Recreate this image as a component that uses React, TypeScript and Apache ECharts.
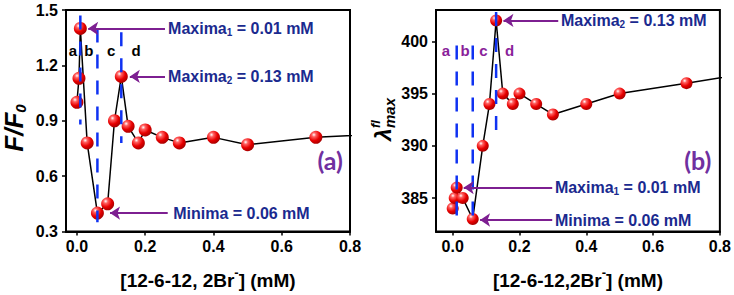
import React, { useEffect, useRef } from "react";
import * as echarts from "echarts";

// ---- data ----
const leftX = [0, 0.006, 0.01, 0.03, 0.06, 0.09, 0.11, 0.13, 0.15, 0.18, 0.2, 0.25, 0.3, 0.4, 0.5, 0.7, 1.0];
const leftY = [1.0, 1.13, 1.4, 0.78, 0.4, 0.45, 0.9, 1.14, 0.87, 0.78, 0.85, 0.81, 0.78, 0.81, 0.77, 0.81, 0.84];

const rightX = [0, 0.006, 0.012, 0.03, 0.06, 0.09, 0.11, 0.13, 0.15, 0.18, 0.2, 0.25, 0.3, 0.4, 0.5, 0.7, 1.0];
const rightY = [384, 385, 386, 385, 383, 390, 394, 402, 395, 394, 395, 394, 393, 394, 395, 396, 397.5];

const xTicks = [0, 0.2, 0.4, 0.6, 0.8];
const rightYTicks = [385, 390, 395, 400];

// dashed separators
const leftDashX = [0.01, 0.06, 0.13];
const leftDashTop = [1.47, 1.4, 1.38];
const leftDashBottom = [0.88, 0.35, 0.78];
const rightDashX = [0.012, 0.06, 0.13];
const rightDashTop = [399.6, 399.6, 402.8];
const rightDashBottom = [382.3, 382.3, 391];

// region letters
const letters = ["a", "b", "c", "d"];
const leftLetterX = [-0.012, 0.035, 0.1, 0.173];
const leftLetterY = 1.28;
const rightLetterX = [-0.02, 0.037, 0.092, 0.17];
const rightLetterY = 399.1;

// annotations
const leftNotes = ["{t|Maxima}{s|1}{t| = 0.01 mM}", "{t|Maxima}{s|2}{t| = 0.13 mM}", "{t|Minima = 0.06 mM}"];
const leftNoteX = [0.267, 0.267, 0.282];
const leftArrowFrom = [0.258, 0.258, 0.266];
const leftArrowTo = [0.033, 0.155, 0.097];
const leftNoteY = [1.4, 1.14, 0.4];

const rightNotes = ["{t|Maxima}{s|2}{t| = 0.13 mM}", "{t|Maxima}{s|1}{t| = 0.01 mM}", "{t|Minima = 0.06 mM}"];
const rightNoteX = [0.324, 0.306, 0.306];
const rightArrowFrom = [0.316, 0.298, 0.298];
const rightArrowTo = [0.152, 0.033, 0.082];
const rightNoteY = [402, 386, 382.9];

const panelTags = ["(a)", "(b)"];
const panelTagX = [0.742, 0.734];
const panelTagY = [0.69, 388.65];

const NAVY = "#1a2a8f";
const ARROW = "#7d1f91";
const PURPLE = "#7030a0";
const LETTER_PURPLE = "#8a1f9a";
const BLUE = "#0f32f2";
const FONT = "Liberation Sans";

const ball = {
  type: "radial",
  x: 0.35,
  y: 0.3,
  r: 0.75,
  colorStops: [
    { offset: 0, color: "#ffffff" },
    { offset: 0.22, color: "#ff6060" },
    { offset: 0.6, color: "#e80000" },
    { offset: 1, color: "#a00000" },
  ],
};

const noteRich = {
  t: { fontFamily: FONT, fontWeight: "bold", fontSize: 16, color: NAVY, lineHeight: 18, verticalAlign: "middle" },
  s: { fontFamily: FONT, fontWeight: "bold", fontSize: 10, color: NAVY, lineHeight: 8, verticalAlign: "bottom" },
};

function makeAxes(gridIndex: number, xmin: number, ymin: number, ymax: number, yTicks: number[] | null, name: string) {
  const xAxis: any = {
    type: "value",
    gridIndex,
    min: xmin,
    max: 0.8,
    splitLine: { show: false },
    axisLine: { show: true, onZero: false, lineStyle: { color: "#000", width: 2 } },
    axisTick: { show: true, length: 4, lineStyle: { color: "#000", width: 1.5 }, customValues: xTicks },
    axisLabel: {
      customValues: xTicks,
      formatter: (v: number) => v.toFixed(1),
      fontFamily: FONT,
      fontWeight: "bold",
      fontSize: 16,
      color: "#000",
      margin: 7,
    },
    name,
    nameLocation: "middle",
    nameGap: 34,
    nameTextStyle: {
      fontFamily: FONT,
      fontWeight: "bold",
      fontSize: 19,
      color: "#000",
      rich: {
        m: { fontFamily: FONT, fontWeight: "bold", fontSize: 19, color: "#000", lineHeight: 22, verticalAlign: "middle" },
        p: { fontFamily: FONT, fontWeight: "bold", fontSize: 13, color: "#000", lineHeight: 30, verticalAlign: "top" },
      },
    },
  };
  const yAxis: any = {
    type: "value",
    gridIndex,
    min: ymin,
    max: ymax,
    splitLine: { show: false },
    axisLine: { show: true, onZero: false, lineStyle: { color: "#000", width: 2 } },
    axisTick: { show: true, length: 4, lineStyle: { color: "#000", width: 1.5 } },
    axisLabel: {
      fontFamily: FONT,
      fontWeight: "bold",
      fontSize: 16,
      color: "#000",
      margin: 8,
    },
  };
  if (yTicks) {
    yAxis.axisTick.customValues = yTicks;
    yAxis.axisLabel.customValues = yTicks;
  } else {
    yAxis.interval = 0.3;
    yAxis.axisLabel.formatter = (v: number) => v.toFixed(1);
  }
  return { xAxis, yAxis };
}

function textScatter(idx: number, data: any[], label: any) {
  return {
    type: "scatter",
    xAxisIndex: idx,
    yAxisIndex: idx,
    symbolSize: 0,
    itemStyle: { opacity: 1 },
    emphasis: { disabled: true },
    silent: true,
    data,
    label: { show: true, opacity: 1, formatter: (p: any) => p.name, ...label },
    z: 4,
  };
}

function buildSeries(
  idx: number,
  xs: number[],
  ys: number[],
  dashX: number[],
  dashTop: number[],
  dashBottom: number[],
  letterX: number[],
  letterY: number,
  letterColor: string,
  notes: string[],
  noteX: number[],
  noteY: number[],
  arrowFrom: number[],
  arrowTo: number[],
  symbolSize: number
) {
  const s: any[] = [];
  s.push({
    type: "line",
    xAxisIndex: idx,
    yAxisIndex: idx,
    data: xs.map((x, i) => [x, ys[i]]),
    symbol: "circle",
    symbolSize,
    showAllSymbol: true,
    clip: true,
    lineStyle: { color: "#000", width: 1.5 },
    itemStyle: { color: ball as any, borderWidth: 0, opacity: 1 },
    z: 2,
  });
  dashX.forEach((x, i) => {
    s.push({
      type: "line",
      xAxisIndex: idx,
      yAxisIndex: idx,
      data: [
        [x, dashTop[i]],
        [x, dashBottom[i]],
      ],
      symbol: "none",
      lineStyle: { color: BLUE, width: 2.5, type: [14, 12] },
      z: 3,
    });
  });
  s.push(
    textScatter(
      idx,
      letterX.map((x, i) => ({ value: [x, letterY], name: letters[i] })),
      { position: "inside", fontFamily: FONT, fontWeight: "bold", fontSize: 15, color: letterColor }
    )
  );
  s.push({
    type: "lines",
    coordinateSystem: "cartesian2d",
    xAxisIndex: idx,
    yAxisIndex: idx,
    symbol: ["none", "arrow"],
    symbolSize: [0, 10],
    lineStyle: { color: ARROW, width: 2, opacity: 1, curveness: 0 },
    data: arrowFrom.map((f, i) => ({
      coords: [
        [f, noteY[i]],
        [arrowTo[i], noteY[i]],
      ],
    })),
    z: 4,
  });
  s.push(
    textScatter(
      idx,
      noteX.map((x, i) => ({ value: [x, noteY[i]], name: notes[i] })),
      { position: "right", distance: 0, rich: noteRich }
    )
  );
  s.push(
    textScatter(
      idx,
      [{ value: [panelTagX[idx], panelTagY[idx]], name: panelTags[idx] }],
      { position: "inside", fontFamily: "Lato", fontWeight: "bold", fontSize: 25, color: PURPLE }
    )
  );
  return s;
}

export default function App() {
  const ref = useRef<HTMLDivElement>(null);
  useEffect(() => {
    document.body.style.margin = "0";
    if (!ref.current) return;
    const chart = echarts.init(ref.current, null, { renderer: "svg" });
    const a1 = makeAxes(0, -0.032, 0.3, 1.5, null, "{m|[12-6-12, 2Br}{p|-}{m|] (mM)}");
    const a2 = makeAxes(1, -0.05, 381.8, 403, rightYTicks, "{m|[12-6-12,2Br}{p|-}{m|] (mM)}");
    const option: any = {
      animation: false,
      backgroundColor: "#fff",
      grid: [
        { left: 66, top: 10, width: 284, height: 229, show: true, borderColor: "#000", borderWidth: 2, backgroundColor: "transparent" },
        { left: 436, top: 10, width: 284, height: 228, show: true, borderColor: "#000", borderWidth: 2, backgroundColor: "transparent" },
      ],
      xAxis: [a1.xAxis, a2.xAxis],
      yAxis: [a1.yAxis, a2.yAxis],
      series: [
        ...buildSeries(0, leftX, leftY, leftDashX, leftDashTop, leftDashBottom, leftLetterX, leftLetterY, "#000",
          leftNotes, leftNoteX, leftNoteY, leftArrowFrom, leftArrowTo, 13),
        ...buildSeries(1, rightX, rightY, rightDashX, rightDashTop, rightDashBottom, rightLetterX, rightLetterY, LETTER_PURPLE,
          rightNotes, rightNoteX, rightNoteY, rightArrowFrom, rightArrowTo, 12),
      ],
      graphic: [
        {
          type: "text",
          x: 14,
          y: 128,
          rotation: Math.PI / 2,
          style: {
            text: "{a|F/F}{b|0}",
            align: "center",
            verticalAlign: "middle",
            rich: {
              a: { fontFamily: FONT, fontWeight: "bold", fontStyle: "italic", fontSize: 26, fill: "#000", lineHeight: 28, verticalAlign: "middle" },
              b: { fontFamily: FONT, fontWeight: "bold", fontStyle: "italic", fontSize: 15, fill: "#000", lineHeight: 12, verticalAlign: "bottom" },
            },
          },
        },
        {
          type: "group",
          x: 383,
          y: 141,
          rotation: Math.PI / 2,
          children: [
            {
              type: "text",
              x: 0,
              y: 0,
              style: { text: "λ", fontFamily: FONT, fontStyle: "italic", fontWeight: "bold", fontSize: 23, fill: "#000", align: "left", verticalAlign: "middle" },
            },
            {
              type: "text",
              x: 13,
              y: 6,
              style: { text: "max", fontFamily: FONT, fontStyle: "italic", fontWeight: "bold", fontSize: 15, fill: "#000", align: "left", verticalAlign: "middle" },
            },
            {
              type: "text",
              x: 13,
              y: -8,
              style: { text: "fl", fontFamily: FONT, fontStyle: "italic", fontWeight: "bold", fontSize: 13, fill: "#000", align: "left", verticalAlign: "middle" },
            },
          ],
        },
      ],
    };
    chart.setOption(option);
    return () => chart.dispose();
  }, []);
  return <div ref={ref} style={{ width: 734, height: 295 }} />;
}
